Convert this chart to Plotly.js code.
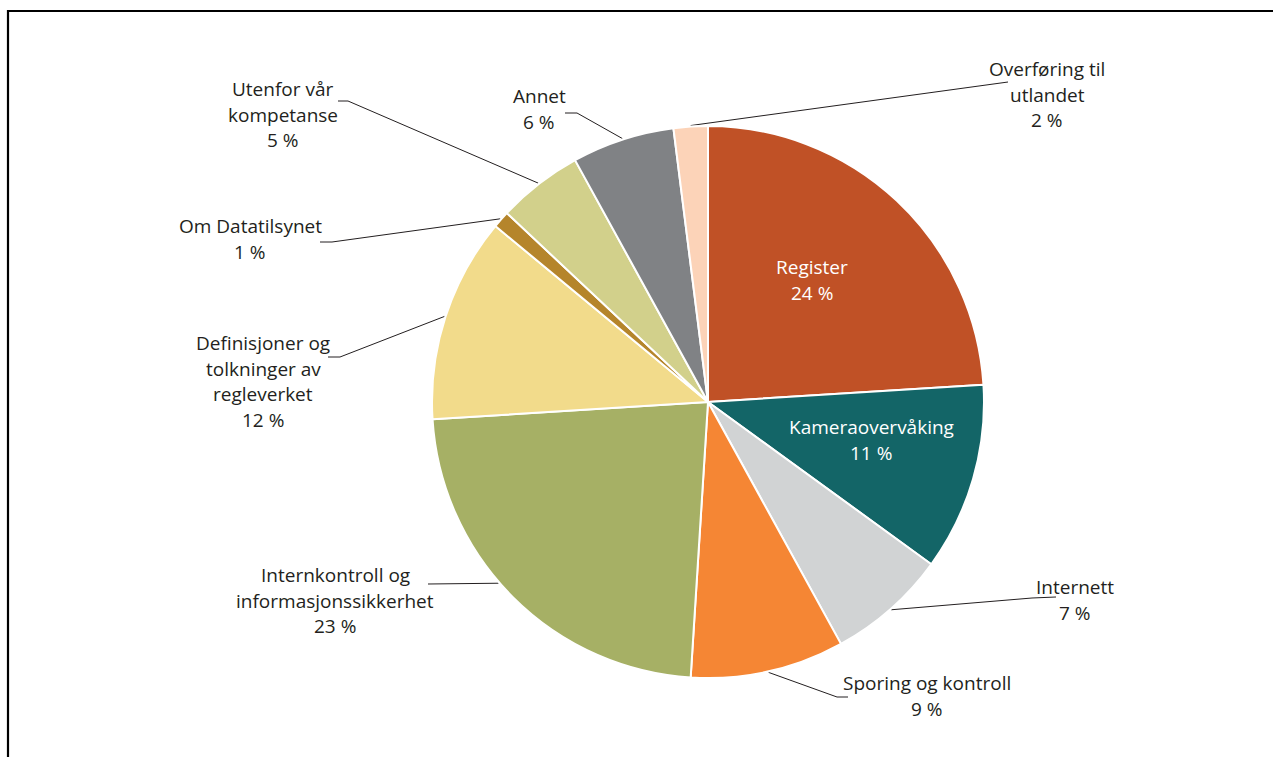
<!DOCTYPE html>
<html>
<head>
<meta charset="utf-8">
<script src="https://cdn.plot.ly/plotly-3.0.1.min.js"></script>
<style>
html,body{margin:0;padding:0;background:#fff;}
#chart{width:1273px;height:757px;}
</style>
</head>
<body>
<div id="chart"></div>
<script>
// ---- Data ----
const categories = ['Register', 'Kameraovervåking', 'Internett', 'Sporing og kontroll',
  'Internkontroll og informasjonssikkerhet', 'Definisjoner og tolkninger av regleverket',
  'Om Datatilsynet', 'Utenfor vår kompetanse', 'Annet', 'Overføring til utlandet'];
const values = [24, 11, 7, 9, 23, 12, 1, 5, 6, 2];
const labelLines = [['Register'], ['Kameraovervåking'], ['Internett'], ['Sporing og kontroll'],
  ['Internkontroll og', 'informasjonssikkerhet'], ['Definisjoner og', 'tolkninger av', 'regleverket'],
  ['Om Datatilsynet'], ['Utenfor vår', 'kompetanse'], ['Annet'], ['Overføring til', 'utlandet']];
const colors = ['#c05126', '#136567', '#d1d3d4', '#f58634', '#a6b065', '#f2db8b',
  '#b5852b', '#d2d08b', '#808285', '#fcd3b8'];

// ---- Layout (pixel positions) ----
const W = 1273, H = 757;
const CX = 708, CY = 402, R = 276;
const LS = 25.5; // line spacing
const labelPos = [
  {x: 812, y: 267, inside: true},
  {x: 871, y: 427, inside: true},
  {x: 1075, y: 587, pts: [[1056, 597], [1032, 598]]},
  {x: 927, y: 683, pts: [[848, 697], [837, 697]]},
  {x: 335, y: 575, pts: [[428, 584]], frac: 0.55},
  {x: 263, y: 343, pts: [[328, 357], [340, 357]]},
  {x: 250, y: 226, pts: [[320, 242], [332, 242]]},
  {x: 283, y: 89, pts: [[338, 101], [348, 101]]},
  {x: 539, y: 96, pts: [[565, 113], [577, 113]]},
  {x: 1047, y: 69, pts: [[1008, 82]]}
];
const FONT = 'Open Sans, sans-serif';
const FS = 19;
const TXT = '#231f20';

const total = values.reduce((a, b) => a + b, 0);
let cum = 0;
const annotations = [];
const traces = [];
traces.push({
  type: 'pie',
  labels: categories,
  values: values,
  sort: false,
  direction: 'clockwise',
  rotation: 0,
  marker: {colors: colors, line: {color: '#ffffff', width: 2}},
  textinfo: 'none',
  hoverinfo: 'label+percent',
  showlegend: false,
  domain: {x: [(CX - R) / W, (CX + R) / W], y: [1 - (CY + R) / H, 1 - (CY - R) / H]}
});

values.forEach((v, i) => {
  const p = labelPos[i];
  const lines = labelLines[i].concat([v + ' %']);
  lines.forEach((t, k) => {
    annotations.push({
      x: p.x, y: p.y + k * LS, xref: 'x', yref: 'y', text: t, showarrow: false,
      xanchor: 'center', yanchor: 'middle',
      font: {family: FONT, size: FS, color: p.inside ? '#ffffff' : TXT}
    });
  });
  if (p.pts) {
    const f = p.frac !== undefined ? p.frac : 0.5;
    const ang = (cum + v * f) / total * 2 * Math.PI;
    const ax = CX + (R + 1) * Math.sin(ang);
    const ay = CY - (R + 1) * Math.cos(ang);
    const xs = p.pts.map(q => q[0]).concat([ax]);
    const ys = p.pts.map(q => q[1]).concat([ay]);
    traces.push({
      type: 'scatter', mode: 'lines', x: xs, y: ys, xaxis: 'x', yaxis: 'y',
      line: {color: TXT, width: 1}, hoverinfo: 'skip', showlegend: false
    });
  }
  cum += v;
});

const layout = {
  width: W, height: H,
  margin: {l: 0, r: 0, t: 0, b: 0},
  paper_bgcolor: '#ffffff', plot_bgcolor: 'rgba(0,0,0,0)',
  showlegend: false,
  xaxis: {range: [0, W], visible: false, fixedrange: true},
  yaxis: {range: [H, 0], visible: false, fixedrange: true},
  annotations: annotations,
  shapes: [
    {type: 'line', xref: 'x', yref: 'y', x0: 7, x1: W, y0: 11, y1: 11, line: {color: '#000', width: 2.2}},
    {type: 'line', xref: 'x', yref: 'y', x0: 8, x1: 8, y0: 10, y1: H, line: {color: '#000', width: 2.2}}
  ]
};

Plotly.newPlot('chart', traces, layout, {displayModeBar: false, staticPlot: true});
</script>
</body>
</html>
